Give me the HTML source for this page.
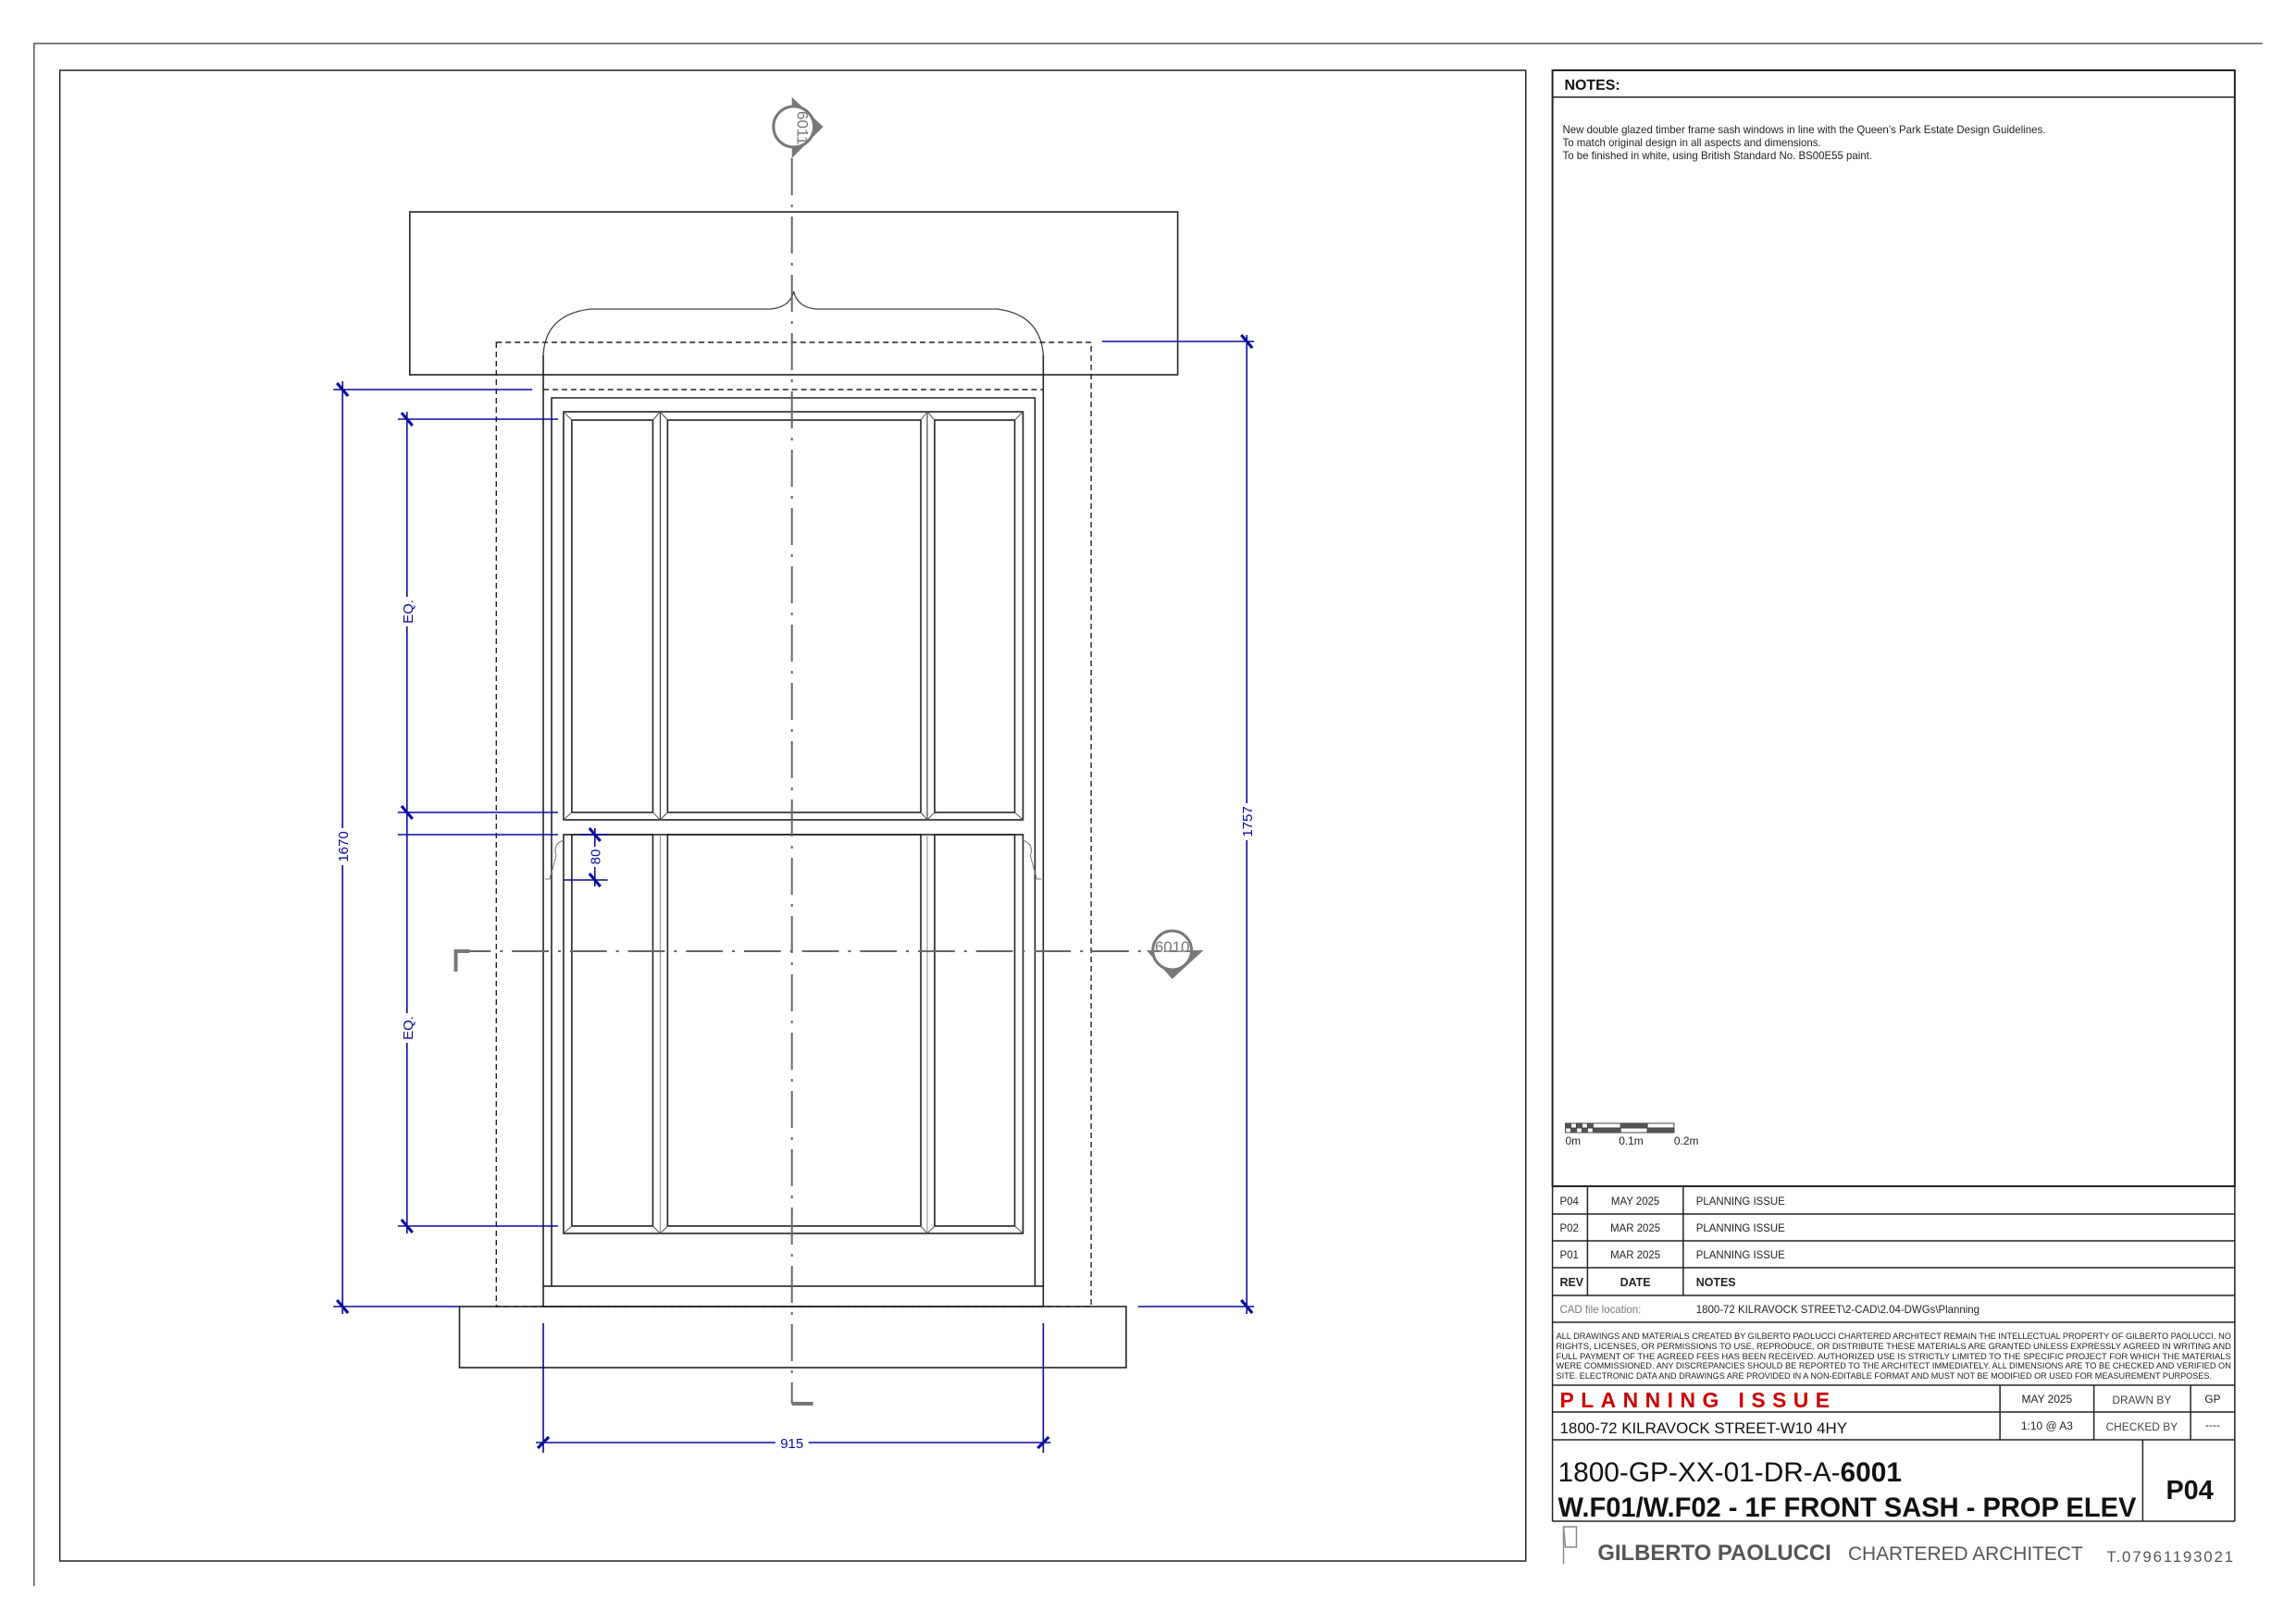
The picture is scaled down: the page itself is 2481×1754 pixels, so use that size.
<!DOCTYPE html>
<html><head><meta charset="utf-8"><style>
html,body{margin:0;padding:0;background:#fff;}
svg{display:block;}
text{font-family:"Liberation Sans",Arial,sans-serif;}
</style></head><body>
<svg width="2481" height="1754" viewBox="0 0 2481 1754" xmlns="http://www.w3.org/2000/svg">
<rect width="2481" height="1754" fill="#fff"/>
<g transform="scale(0.995,1)">
<!-- sheet border -->
<polyline points="2457,47 37,47 37,1714" fill="none" stroke="#555" stroke-width="1.5"/>
<!-- drawing frame -->
<rect x="65" y="76" width="1592" height="1611" fill="none" stroke="#222" stroke-width="1.5"/>

<g fill="none" stroke="#222" stroke-width="1.6">
<rect x="445" y="229" width="834" height="176"/>
<rect x="499" y="1412" width="724" height="66"/>
<rect x="590" y="1390" width="543" height="22"/>
<line x1="590" y1="384" x2="590" y2="1390"/>
<line x1="1133" y1="384" x2="1133" y2="1390"/>
<polyline points="599,1390 599,430 1124,430 1124,1390"/>
<path d="M590,384 Q592,340 641,334 L837,334 Q858,332 862,315 Q866,332 886,334 L1083,334 Q1130,340 1133,384" stroke="#444" stroke-width="1.3"/>
<rect x="612" y="445" width="499" height="441"/>
<rect x="621" y="454" width="88" height="424"/>
<rect x="725" y="454" width="275" height="424"/>
<rect x="1015" y="454" width="87" height="424"/>
<line x1="717" y1="445" x2="717" y2="886" stroke-width="1"/>
<line x1="1007" y1="445" x2="1007" y2="886" stroke-width="1"/>
<rect x="612" y="902" width="499" height="431"/>
<rect x="621" y="902" width="88" height="423"/>
<rect x="725" y="902" width="275" height="423"/>
<rect x="1015" y="902" width="87" height="423"/>
<line x1="717" y1="902" x2="717" y2="1333" stroke="#888" stroke-width="1"/>
<line x1="1007" y1="902" x2="1007" y2="1333" stroke="#888" stroke-width="1"/>
</g>
<g stroke="#555" stroke-width="1">
<line x1="612" y1="445" x2="621" y2="454"/><line x1="1111" y1="445" x2="1102" y2="454"/>
<line x1="612" y1="886" x2="621" y2="878"/><line x1="1111" y1="886" x2="1102" y2="878"/>
<line x1="709" y1="454" x2="717" y2="445"/><line x1="725" y1="454" x2="717" y2="445"/>
<line x1="1000" y1="454" x2="1007" y2="445"/><line x1="1015" y1="454" x2="1007" y2="445"/>
<line x1="709" y1="878" x2="717" y2="886"/><line x1="725" y1="878" x2="717" y2="886"/>
<line x1="1000" y1="878" x2="1007" y2="886"/><line x1="1015" y1="878" x2="1007" y2="886"/>
<line x1="612" y1="1333" x2="621" y2="1325"/><line x1="1111" y1="1333" x2="1102" y2="1325"/>
<line x1="709" y1="1325" x2="717" y2="1333"/><line x1="725" y1="1325" x2="717" y2="1333"/>
<line x1="1000" y1="1325" x2="1007" y2="1333"/><line x1="1015" y1="1325" x2="1007" y2="1333"/>
</g>
<path d="M612,908 Q600,912 604,925 L597,950 L592,950" fill="none" stroke="#777" stroke-width="1"/>
<path d="M1111,908 Q1123,912 1119,925 L1126,950 L1131,950" fill="none" stroke="#777" stroke-width="1"/>
<g fill="none" stroke="#222" stroke-width="1.4" stroke-dasharray="6,4">
<rect x="539" y="370" width="646" height="1042"/>
<line x1="590" y1="421" x2="1133" y2="421"/>
</g>
<g stroke="#666" stroke-width="2" fill="none">
<line x1="860" y1="171" x2="860" y2="1517" stroke-dasharray="40,10,3,10"/>
<line x1="493" y1="1028" x2="1250" y2="1028" stroke-dasharray="40,10,3,10"/>
</g>
<line x1="860" y1="1517" x2="883" y2="1517" stroke="#777" stroke-width="4"/>
<polyline points="495,1050 495,1028 510,1028" fill="none" stroke="#777" stroke-width="4"/>
<polygon points="860,105 894,137 860,171" fill="#777"/>
<circle cx="862" cy="137" r="22" fill="#fff" stroke="#777" stroke-width="3"/>
<text x="0" y="0" font-size="17" fill="#777" transform="translate(866,120) rotate(90)">6011</text>
<polygon points="1245,1027 1307,1027 1273,1058" fill="#777"/>
<circle cx="1273" cy="1027" r="21" fill="#fff" stroke="#777" stroke-width="3"/>
<line x1="1252" y1="1028" x2="1294" y2="1028" stroke="#777" stroke-width="2" stroke-dasharray="8,4,2,4"/>
<text x="1273" y="1029" font-size="17" fill="#777" text-anchor="middle">6010</text>

<g stroke="#0a0aa0" stroke-width="1.6" fill="none">
<line x1="372" y1="412" x2="372" y2="1420"/>
<line x1="362" y1="421" x2="578" y2="421"/>
<line x1="362" y1="1412" x2="500" y2="1412"/>
<line x1="442" y1="445" x2="442" y2="1333"/>
<line x1="432" y1="453" x2="606" y2="453"/>
<line x1="432" y1="878" x2="606" y2="878"/>
<line x1="432" y1="902" x2="606" y2="902"/>
<line x1="432" y1="1325" x2="606" y2="1325"/>
<line x1="646" y1="895" x2="646" y2="958"/>
<line x1="630" y1="902" x2="660" y2="902"/>
<line x1="612" y1="951" x2="660" y2="951"/>
<line x1="1354" y1="362" x2="1354" y2="1420"/>
<line x1="1197" y1="369" x2="1362" y2="369"/>
<line x1="1236" y1="1412" x2="1362" y2="1412"/>
<line x1="582" y1="1559" x2="1141" y2="1559"/>
<line x1="590" y1="1430" x2="590" y2="1570"/>
<line x1="1133" y1="1430" x2="1133" y2="1570"/>
</g>
<g stroke="#0a0aa0" stroke-width="3.2">
<line x1="366" y1="414" x2="378" y2="428"/><line x1="366" y1="1405" x2="378" y2="1419"/>
<line x1="436" y1="446" x2="448" y2="460"/><line x1="436" y1="871" x2="448" y2="885"/>
<line x1="436" y1="1318" x2="448" y2="1332"/>
<line x1="640" y1="895" x2="652" y2="909"/><line x1="640" y1="944" x2="652" y2="958"/>
<line x1="1348" y1="362" x2="1360" y2="376"/><line x1="1348" y1="1405" x2="1360" y2="1419"/>
<line x1="584" y1="1565" x2="596" y2="1553"/><line x1="1127" y1="1565" x2="1139" y2="1553"/>
</g>
<g fill="#0a0aa0" font-size="15">
<rect x="364" y="895" width="16" height="40" fill="#fff"/>
<text transform="translate(378,915) rotate(-90)" text-anchor="middle">1670</text>
<rect x="434" y="645" width="16" height="32" fill="#fff"/>
<text transform="translate(448,661) rotate(-90)" text-anchor="middle">EQ.</text>
<rect x="434" y="1095" width="16" height="32" fill="#fff"/>
<text transform="translate(448,1111) rotate(-90)" text-anchor="middle">EQ.</text>
<rect x="638" y="915" width="16" height="22" fill="#fff"/>
<text transform="translate(652,926) rotate(-90)" text-anchor="middle">80</text>
<rect x="1346" y="868" width="16" height="40" fill="#fff"/>
<text transform="translate(1360,888) rotate(-90)" text-anchor="middle">1757</text>
<rect x="842" y="1551" width="36" height="16" fill="#fff"/>
<text x="860" y="1565" text-anchor="middle">915</text>
</g>

<rect x="1686" y="76" width="741" height="1206" fill="none" stroke="#222" stroke-width="2"/>
<line x1="1686" y1="105" x2="2427" y2="105" stroke="#222" stroke-width="1.5"/>
<text x="1699" y="97" font-size="16" font-weight="bold" fill="#111">NOTES:</text>
<g font-size="11.5" fill="#222">
<text x="1697" y="144">New double glazed timber frame sash windows in line with the Queen’s Park Estate Design Guidelines.</text>
<text x="1697" y="158">To match original design in all aspects and dimensions.</text>
<text x="1697" y="172">To be finished in white, using British Standard No. BS00E55 paint.</text>
</g>
<g stroke="#444" stroke-width="1">
<rect x="1700" y="1214" width="118" height="10" fill="#fff"/>
<rect x="1700" y="1214" width="6" height="5" fill="#555"/><rect x="1706" y="1219" width="6" height="5" fill="#555"/>
<rect x="1712" y="1214" width="6" height="5" fill="#555"/><rect x="1718" y="1219" width="6" height="5" fill="#555"/>
<rect x="1724" y="1214" width="6" height="5" fill="#555"/><rect x="1730" y="1219" width="30" height="5" fill="#555"/>
<rect x="1760" y="1214" width="29" height="5" fill="#555"/><rect x="1789" y="1219" width="29" height="5" fill="#555"/>
</g>
<g font-size="12" fill="#222"><text x="1700" y="1237">0m</text><text x="1758" y="1237">0.1m</text><text x="1818" y="1237">0.2m</text></g>

<g stroke="#222" stroke-width="1.5" fill="none">
<line x1="1686" y1="1282" x2="1686" y2="1644"/>
<line x1="2427" y1="1282" x2="2427" y2="1644"/>
<line x1="1686" y1="1312" x2="2427" y2="1312"/>
<line x1="1686" y1="1341" x2="2427" y2="1341"/>
<line x1="1686" y1="1370" x2="2427" y2="1370"/>
<line x1="1686" y1="1400" x2="2427" y2="1400"/>
<line x1="1686" y1="1429" x2="2427" y2="1429"/>
<line x1="1686" y1="1497" x2="2427" y2="1497"/>
<line x1="1686" y1="1526" x2="2427" y2="1526"/>
<line x1="1686" y1="1556" x2="2427" y2="1556"/>
<line x1="1686" y1="1644" x2="2427" y2="1644"/>
<line x1="1724" y1="1282" x2="1724" y2="1400"/>
<line x1="1828" y1="1282" x2="1828" y2="1400"/>
<line x1="2172" y1="1497" x2="2172" y2="1556"/>
<line x1="2274" y1="1497" x2="2274" y2="1556"/>
<line x1="2379" y1="1497" x2="2379" y2="1556"/>
<line x1="2327" y1="1556" x2="2327" y2="1644"/>
</g>
<g font-size="11.5" fill="#222">
<text x="1694" y="1302">P04</text><text x="1776" y="1302" text-anchor="middle">MAY 2025</text><text x="1842" y="1302">PLANNING ISSUE</text>
<text x="1694" y="1331">P02</text><text x="1776" y="1331" text-anchor="middle">MAR 2025</text><text x="1842" y="1331">PLANNING ISSUE</text>
<text x="1694" y="1360">P01</text><text x="1776" y="1360" text-anchor="middle">MAR 2025</text><text x="1842" y="1360">PLANNING ISSUE</text>
<text x="1694" y="1390" font-weight="bold" font-size="12.5">REV</text><text x="1776" y="1390" text-anchor="middle" font-weight="bold" font-size="12.5">DATE</text><text x="1842" y="1390" font-weight="bold" font-size="12.5">NOTES</text>
<text x="1694" y="1419" fill="#777">CAD file location:</text><text x="1842" y="1419">1800-72 KILRAVOCK STREET\2-CAD\2.04-DWGs\Planning</text>
</g>
<g font-size="9.3" fill="#222">
<text x="1690" y="1447" textLength="733" lengthAdjust="spacingAndGlyphs">ALL DRAWINGS AND MATERIALS CREATED BY GILBERTO PAOLUCCI CHARTERED ARCHITECT REMAIN THE INTELLECTUAL PROPERTY OF GILBERTO PAOLUCCI. NO</text>
<text x="1690" y="1458" textLength="733" lengthAdjust="spacingAndGlyphs">RIGHTS, LICENSES, OR PERMISSIONS TO USE, REPRODUCE, OR DISTRIBUTE THESE MATERIALS ARE GRANTED UNLESS EXPRESSLY AGREED IN WRITING AND</text>
<text x="1690" y="1469" textLength="733" lengthAdjust="spacingAndGlyphs">FULL PAYMENT OF THE AGREED FEES HAS BEEN RECEIVED. AUTHORIZED USE IS STRICTLY LIMITED TO THE SPECIFIC PROJECT FOR WHICH THE MATERIALS</text>
<text x="1690" y="1479" textLength="733" lengthAdjust="spacingAndGlyphs">WERE COMMISSIONED. ANY DISCREPANCIES SHOULD BE REPORTED TO THE ARCHITECT IMMEDIATELY. ALL DIMENSIONS ARE TO BE CHECKED AND VERIFIED ON</text>
<text x="1690" y="1490" textLength="712" lengthAdjust="spacingAndGlyphs">SITE. ELECTRONIC DATA AND DRAWINGS ARE PROVIDED IN A NON-EDITABLE FORMAT AND MUST NOT BE MODIFIED OR USED FOR MEASUREMENT PURPOSES.</text>
</g>
<text x="1694" y="1521" font-size="23" font-weight="bold" fill="#cc0000" letter-spacing="7.5">PLANNING ISSUE</text>
<g font-size="12" fill="#222" text-anchor="middle">
<text x="2223" y="1516">MAY 2025</text><text x="2326" y="1517" fill="#444">DRAWN BY</text><text x="2403" y="1516">GP</text>
<text x="2223" y="1545">1:10  @  A3</text><text x="2326" y="1546" fill="#444">CHECKED BY</text><text x="2403" y="1544">----</text>
</g>
<text x="1694" y="1549" font-size="17" fill="#111">1800-72 KILRAVOCK STREET-W10 4HY</text>
<text x="1692" y="1601" font-size="30" fill="#111">1800-GP-XX-01-DR-A-<tspan font-weight="bold">6001</tspan></text>
<text x="1692" y="1639" font-size="30" font-weight="bold" fill="#111" textLength="628" lengthAdjust="spacingAndGlyphs">W.F01/W.F02 - 1F FRONT SASH - PROP ELEV</text>
<text x="2378" y="1620" font-size="29" font-weight="bold" fill="#111" text-anchor="middle">P04</text>
<g stroke="#888" stroke-width="1.5" fill="none">
<path d="M1698,1650 L1712,1650 L1712,1672 L1700,1672 Z"/>
<line x1="1698" y1="1650" x2="1698" y2="1690"/>
</g>
<text x="1735" y="1686" font-size="24" font-weight="bold" fill="#555">GILBERTO PAOLUCCI</text>
<text x="2007" y="1686" font-size="21" fill="#555">CHARTERED ARCHITECT</text>
<text x="2427" y="1688" font-size="17" fill="#555" text-anchor="end" letter-spacing="1.8">T.07961193021</text>
</g>
</svg>
</body></html>
